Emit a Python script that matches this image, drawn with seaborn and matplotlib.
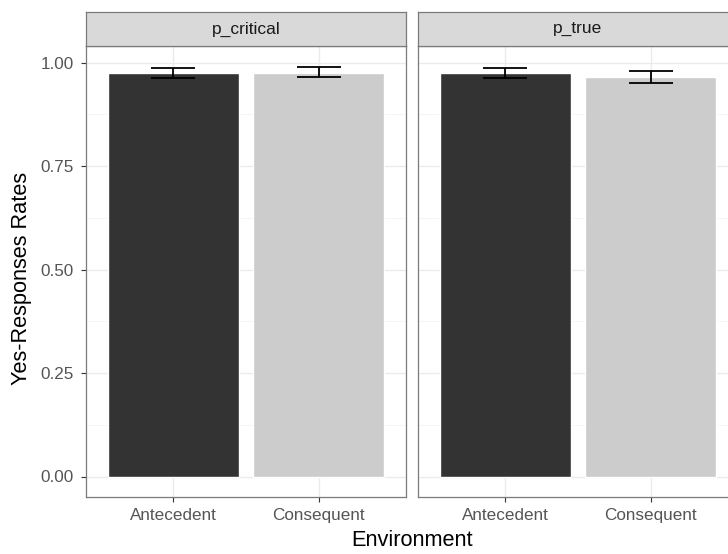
import matplotlib
matplotlib.use("Agg")
import matplotlib.pyplot as plt
import seaborn as sns
import pandas as pd
import numpy as np

# ---- data ----
facets = ["p_critical", "p_true"]
environments = ["Antecedent", "Consequent"]
rates_critical = [0.9756, 0.9756]
rates_true = [0.9756, 0.9646]
err_low_critical = [0.963, 0.966]
err_high_critical = [0.988, 0.991]
err_low_true = [0.964, 0.952]
err_high_true = [0.988, 0.980]
yticks = [0.00, 0.25, 0.50, 0.75, 1.00]
ytick_labels = ["0.00", "0.25", "0.50", "0.75", "1.00"]

bar_colors = ["#333333", "#CCCCCC"]

sns.set_theme(style="white")
plt.rcParams["font.family"] = ["Liberation Sans", "DejaVu Sans"]

W, H = 728, 554
fig = plt.figure(figsize=(W / 100, H / 100), dpi=100)

def fx(px):
    return px / W

def fy(py):
    return 1 - py / H

panel_lefts = [86, 418]
panel_w = 320
strip_top, strip_bot, panel_bot = 12, 46, 497

data = {
    "p_critical": (rates_critical, err_low_critical, err_high_critical),
    "p_true": (rates_true, err_low_true, err_high_true),
}

ymax = max(err_high_critical + err_high_true)
ylim = (-0.05 * ymax, ymax * 1.05)

border_col = "#7a7a7a"
for i, (facet, left) in enumerate(zip(facets, panel_lefts)):
    rates, lo, hi = data[facet]
    df = pd.DataFrame({"Environment": environments, "rate": rates})
    ax = fig.add_axes([fx(left), fy(panel_bot), panel_w / W, (panel_bot - strip_bot) / H])
    ax.set_facecolor("white")
    # grid
    for y in yticks:
        ax.axhline(y, color="#EBEBEB", lw=1.0, zorder=0)
    for y in np.arange(0.125, 1.0, 0.25):
        ax.axhline(y, color="#F2F2F2", lw=0.6, zorder=0)
    for xx in range(len(environments)):
        ax.axvline(xx, color="#EBEBEB", lw=1.0, zorder=0)
    sns.barplot(data=df, x="Environment", y="rate", hue="Environment",
                palette=bar_colors, width=0.9, saturation=1, ax=ax,
                legend=False, zorder=2, errorbar=None)
    xs = np.arange(len(environments))
    mids = [(a + b) / 2 for a, b in zip(lo, hi)]
    half = [(b - a) / 2 for a, b in zip(lo, hi)]
    ax.errorbar(xs, mids, yerr=half, fmt="none", ecolor="black",
                elinewidth=1.3, capsize=15.5, capthick=1.3, zorder=3)
    ax.set_xlim(-0.6, 1.6)
    ax.set_ylim(*ylim)
    ax.set_xlabel("")
    ax.set_ylabel("")
    for s in ax.spines.values():
        s.set_color(border_col)
        s.set_linewidth(0.9)
    ax.tick_params(axis="both", which="both", length=3.3, width=0.8,
                   color="#333333", labelcolor="#555555", labelsize=12.3)
    ax.tick_params(axis="x", pad=4.5)
    ax.tick_params(axis="y", pad=5.5)
    ax.set_xticks(xs)
    ax.set_xticklabels(environments)
    ax.set_yticks(yticks)
    if i == 0:
        ax.set_yticklabels(ytick_labels)
        ax.tick_params(axis="y", left=True)
    else:
        ax.tick_params(axis="y", left=False, labelleft=False)
    ax.tick_params(axis="x", bottom=True)
    # strip
    sax = fig.add_axes([fx(left), fy(strip_bot), panel_w / W, (strip_bot - strip_top) / H])
    sax.set_facecolor("#D9D9D9")
    sax.set_xticks([])
    sax.set_yticks([])
    for s in sax.spines.values():
        s.set_color(border_col)
        s.set_linewidth(0.9)
    sax.text(0.5, 0.5, facet, ha="center", va="center", fontsize=12.5,
             color="#1A1A1A", transform=sax.transAxes)

fig.text(fx(412), fy(540), "Environment", ha="center", va="center",
         fontsize=15.7, color="black")
fig.text(fx(22), fy(278), "Yes-Responses Rates", ha="center", va="center",
         rotation=90, fontsize=15.7, color="black")

fig.savefig("out.png", dpi=100)
